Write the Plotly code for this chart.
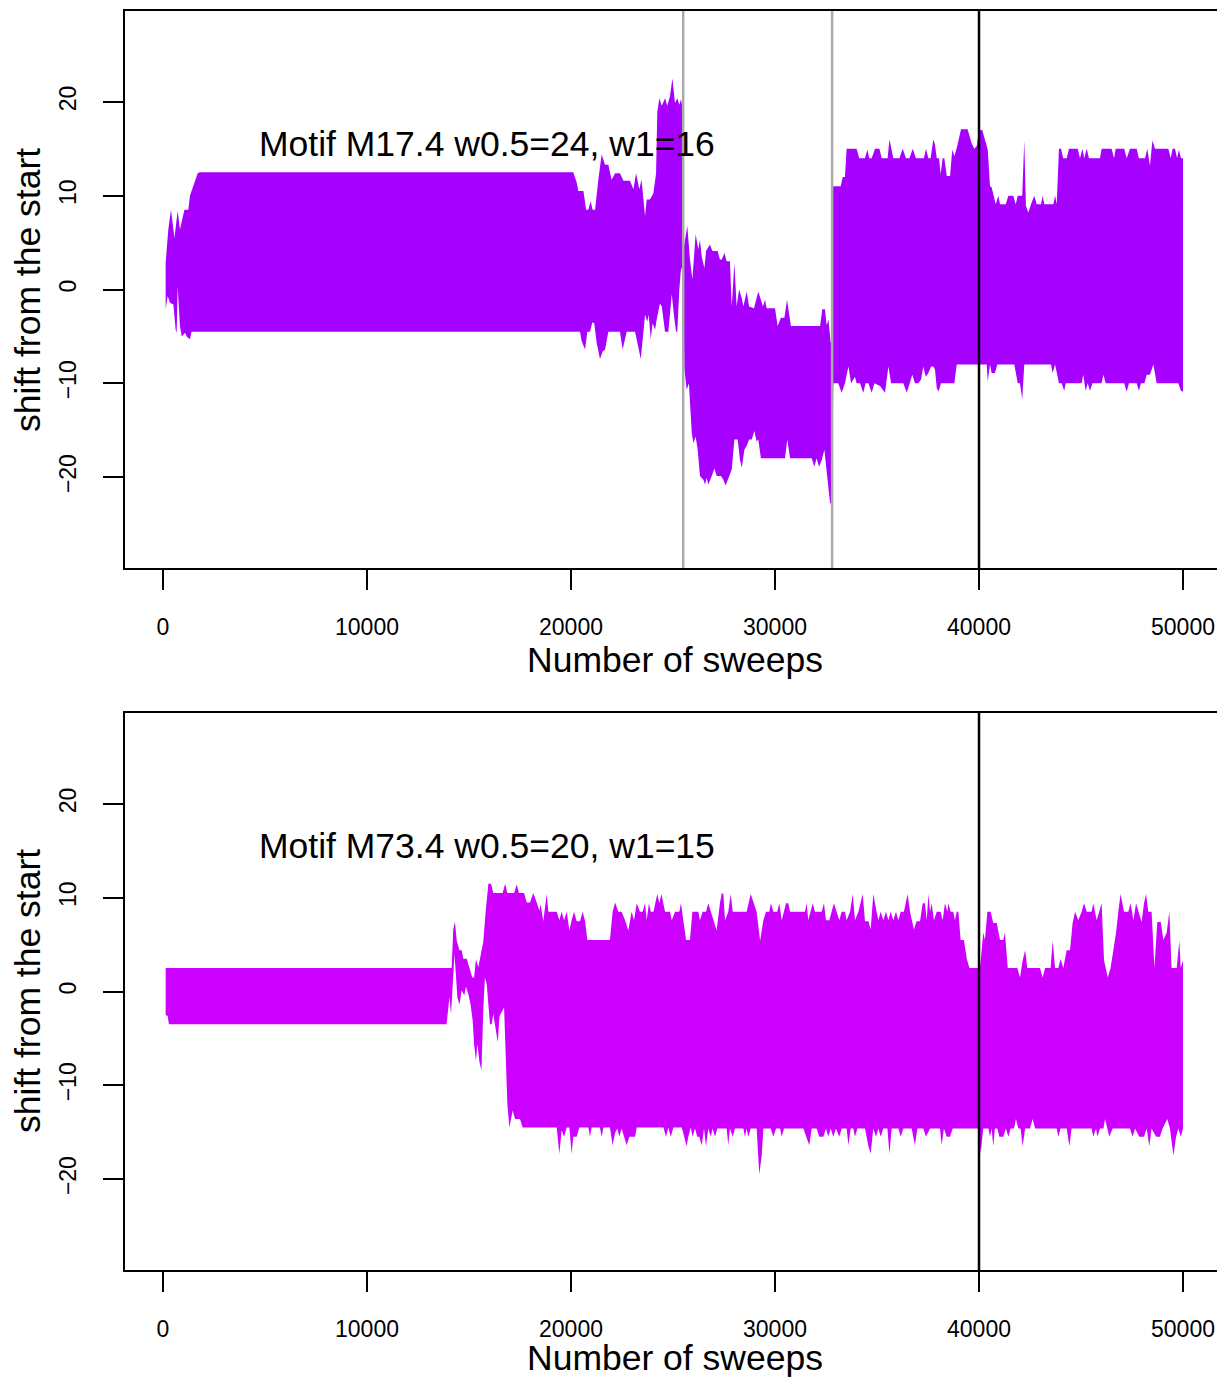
import plotly.graph_objects as go

# ---------------------------------------------------------------------------
# Envelope of the motif shift (upper / lower bound) versus number of sweeps
# ---------------------------------------------------------------------------

# Motif M17.4 -- upper bound
m17_upper_x = [130, 260, 390, 560, 720, 830, 1050, 1240, 1320, 1540, 1700, 1800, 20110, 20280, 20360,
               20610, 20740, 20850, 20960, 21060, 21180, 21340, 21500, 21670, 21830, 21990, 22160, 22400,
               22570, 22890, 23060, 23190, 23350, 23460, 23580, 23630, 23710, 23870, 24040, 24170, 24230,
               24330, 24450, 24610, 24720, 24850, 24970, 25100, 25210, 25310, 25390, 25460, 25530, 25700,
               25830, 25950, 26110, 26240, 26320, 26410, 26540, 26620, 26810, 26930, 27190, 27300, 27390,
               27520, 27630, 27790, 27880, 28010, 28120, 28240, 28370, 28450, 28610, 28730, 28970, 29180,
               29410, 29510, 29590, 30000, 30130, 30290, 30460, 30590, 30780, 32210, 32320, 32450, 32530,
               32620, 32730, 32790, 32830, 33220, 33320, 33430, 33510, 34000, 34130, 34410, 34530, 34620,
               34740, 34900, 35120, 35230, 35520, 35610, 35800, 36100, 36260, 36420, 36590, 36750, 36910,
               37300, 37400, 37520, 37630, 37760, 37840, 37930, 38040, 38120, 38220, 38300, 38420, 38580,
               38690, 38790, 38910, 39120, 39440, 39640, 39770, 39890, 40000, 40160, 40290, 40430, 40540,
               40620, 40820, 40950, 41030, 41310, 41440, 41680, 41800, 41900, 42120, 42220, 42300, 42420,
               42550, 42710, 42830, 43040, 43120, 43200, 43640, 43730, 43810, 43920, 44020, 44130, 44300,
               44410, 44840, 44950, 45070, 45160, 45280, 45390, 45930, 46010, 46500, 46620, 46700, 47120,
               47240, 47400, 47730, 47840, 48140, 48250, 48380, 48500, 48630, 49280, 49400, 49490, 49610,
               49710, 49800, 49900, 50000]
m17_upper_y = [2.9, 6.4, 8.5, 5.5, 8.4, 6.4, 8.5, 8.5, 10.0, 11.5, 12.4, 12.5, 12.5, 11.4, 10.5,
               10.5, 8.5, 8.5, 9.4, 8.5, 8.5, 11.7, 14.4, 13.3, 13.3, 11.7, 12.4, 12.4,
               11.6, 11.6, 10.7, 12.4, 10.7, 11.7, 9.4, 7.8, 9.6, 9.6, 10.3, 12.4, 18.9,
               20.4, 19.6, 20.4, 19.6, 20.6, 22.5, 19.9, 20.4, 19.7, 20.3, 19.5, 4.5, 6.8,
               3.2, 1.1, 5.9, 4.3, 5.3, 3.5, 2.3, 4.1, 4.8, 4.1, 4.1, 3.2, 3.2,
               3.9, 3.0, 3.0, -1.8, 2.8, -1.8, 0.0, -0.9, -1.8, -0.2, -1.8, -2.0, -0.2,
               -1.8, -1.1, -2.0, -2.0, -3.9, -3.0, -3.0, -1.1, -3.9, -3.9, -2.1, -2.1, -3.8,
               -3.2, -5.7, -5.0, 11.0, 11.0, 12.0, 12.0, 15.0, 15.0, 14.0, 14.0, 14.9, 14.0,
               14.0, 15.0, 15.0, 14.0, 14.0, 16.0, 14.0, 14.0, 15.0, 14.0, 14.0, 15.0, 14.0,
               14.0, 15.0, 14.0, 14.0, 16.0, 15.5, 14.0, 14.0, 12.3, 14.0, 14.0, 12.1, 12.1,
               14.9, 14.2, 15.1, 17.1, 17.1, 15.6, 15.0, 15.3, 17.0, 17.0, 16.0, 14.9, 11.0,
               10.9, 9.1, 10.0, 9.1, 9.1, 10.0, 10.0, 9.1, 10.0, 10.0, 15.9, 8.9, 8.2,
               9.1, 10.0, 9.1, 9.1, 10.0, 9.1, 9.1, 10.0, 9.1, 15.0, 15.0, 14.0, 14.0,
               15.0, 15.0, 14.0, 15.0, 14.0, 15.0, 14.0, 14.0, 15.0, 15.0, 14.0, 15.0, 15.0,
               14.0, 15.0, 15.0, 14.0, 14.0, 15.0, 13.2, 15.9, 15.0, 15.0, 14.0, 15.0, 15.0,
               14.0, 14.9, 14.0, 14.0]

# Motif M17.4 -- lower bound
m17_lower_x = [130, 230, 340, 510, 620, 670, 720, 830, 920, 1080, 1160, 1320, 1400, 20440, 20520,
               20690, 20800, 20930, 21050, 21140, 21260, 21420, 21550, 21670, 21830, 22400, 22530, 22730,
               23140, 23420, 23630, 23740, 23810, 23910, 24000, 24120, 24200, 24360, 24450, 24610, 24770,
               24940, 25050, 25150, 25210, 25310, 25390, 25480, 25560, 25670, 25780, 25920, 26000, 26110,
               26210, 26320, 26490, 26570, 26650, 26730, 26900, 27030, 27140, 27350, 27470, 27580, 27710,
               27880, 28010, 28170, 28280, 28370, 28500, 28610, 28730, 28860, 28990, 29100, 29180, 29310,
               30490, 30600, 30740, 31800, 31930, 32040, 32160, 32290, 32420, 32530, 32700, 32780, 32860,
               33100, 33270, 33430, 33600, 33730, 33920, 34000, 34170, 34330, 34440, 34580, 34740, 34870,
               35150, 35390, 35560, 35690, 36290, 36460, 36620, 36730, 36860, 37030, 37160, 37270, 37390,
               37520, 37650, 37760, 37840, 37930, 38010, 38140, 38790, 38910, 40380, 40430, 40540, 40620,
               40780, 40900, 41730, 41900, 42010, 42120, 42220, 43530, 43610, 43730, 43920, 44050, 44180,
               44250, 45030, 45110, 45230, 45330, 45440, 45560, 46010, 46100, 46210, 47120, 47240, 47350,
               47730, 47840, 47940, 48110, 48220, 48380, 48550, 48710, 49770, 49900, 50000]
m17_lower_y = [-2.1, -0.7, -1.4, -1.6, -4.3, -4.6, 0.3, -3.9, -5.0, -4.6, -5.0, -5.3, -4.5, -4.5, -5.5,
               -6.4, -4.5, -4.5, -3.5, -3.6, -5.7, -7.4, -6.6, -6.4, -4.5, -4.5, -6.4, -4.5,
               -4.5, -7.4, -2.7, -3.4, -2.7, -5.3, -3.6, -4.3, -3.2, -1.5, -1.8, -4.5, -4.5,
               -0.5, -2.8, -4.5, -4.5, 0.0, 2.1, 2.5, -8.5, -10.7, -10.0, -15.3, -16.4, -15.7,
               -17.1, -19.9, -20.3, -20.8, -20.1, -20.8, -19.9, -19.1, -19.9, -19.9, -20.3, -20.9, -20.1,
               -19.2, -16.0, -16.0, -18.1, -19.0, -17.1, -16.7, -16.0, -16.0, -15.1, -16.2, -16.0, -18.0,
               -18.0, -16.0, -18.0, -18.0, -18.9, -18.0, -18.9, -18.2, -17.1, -18.9, -22.8, -22.8, -10.0,
               -10.0, -11.0, -10.0, -8.2, -10.0, -9.3, -10.0, -10.0, -11.0, -10.0, -10.0, -11.0, -10.0,
               -10.3, -11.0, -8.2, -10.0, -10.0, -11.0, -10.0, -9.1, -10.0, -10.0, -9.6, -8.2, -9.3,
               -8.9, -8.2, -8.2, -8.5, -10.5, -10.9, -10.0, -10.0, -8.0, -8.0, -9.8, -8.0, -8.9,
               -8.9, -8.0, -8.0, -10.0, -10.0, -11.7, -8.0, -8.0, -8.9, -8.0, -10.0, -10.0, -10.8,
               -10.0, -10.0, -9.1, -10.8, -10.0, -10.8, -10.0, -10.0, -9.1, -10.0, -10.0, -10.9, -10.0,
               -10.0, -10.8, -10.0, -10.0, -9.1, -9.1, -8.0, -10.0, -10.0, -10.8, -10.9]

# Motif M73.4 -- upper bound
m73_upper_x = [130, 14150, 14230, 14310, 14400, 14530, 14640, 14720, 14890, 15050, 15160, 15250, 15340,
               15460, 15540, 15700, 15820, 15950, 16080, 16190, 16650, 16770, 16880, 17210, 17340, 17450,
               17700, 17830, 17990, 18150, 18320, 18450, 18510, 18640, 18810, 18890, 19300, 19430, 19540,
               19660, 19790, 19920, 20030, 20150, 20280, 20440, 20570, 20690, 20800, 21910, 22040, 22160,
               22320, 22480, 22650, 22810, 22970, 23090, 23220, 23380, 23510, 23630, 23710, 23820, 23910,
               24040, 24230, 24330, 24430, 24610, 24850, 24940, 25100, 25310, 25390, 25510, 25640, 25830,
               25950, 26240, 26320, 26450, 26620, 26730, 26860, 26980, 27140, 27300, 27390, 27470, 27550,
               27710, 27830, 27930, 28610, 28810, 28970, 29100, 29270, 29430, 29560, 29720, 29800, 29920,
               30110, 30210, 30330, 30540, 30650, 30740, 31470, 31550, 31630, 31850, 31960, 32290, 32400,
               32500, 32660, 32780, 32890, 33020, 33150, 33270, 33430, 33510, 33680, 33810, 33920, 34090,
               34300, 34410, 34580, 34690, 34820, 34980, 35070, 35180, 35310, 35440, 35560, 35670, 35800,
               35930, 36050, 36160, 36320, 36500, 36620, 36810, 36940, 37110, 37240, 37350, 37440, 37520,
               37600, 37680, 37790, 37930, 38120, 38220, 38330, 38450, 38500, 38610, 38740, 38820, 38910,
               38990, 39100, 39260, 39400, 39530, 40050, 40130, 40210, 40290, 40410, 40570, 40700, 40870,
               41030, 41190, 41270, 41410, 41880, 42010, 42140, 42260, 42370, 42990, 43120, 43240, 43510,
               43610, 43730, 43890, 44000, 44130, 44300, 44460, 44590, 44710, 44870, 45030, 45150, 45280,
               45520, 45600, 45770, 46010, 46130, 46210, 46310, 46450, 46590, 46720, 46830, 46940, 47110,
               47320, 47430, 47570, 47700, 47810, 47970, 48090, 48190, 48300, 48460, 48600, 48740, 48910,
               49040, 49200, 49330, 49440, 49690, 49820, 49890, 50000]
m73_upper_y = [2.5, 2.5, 6.7, 7.4, 5.4, 4.4, 4.4, 3.5, 3.5, 2.2, 1.5, 1.5, 3.4,
               2.6, 3.5, 5.3, 8.6, 11.5, 11.5, 10.5, 10.5, 11.5, 10.5, 10.5, 11.4, 10.5,
               10.5, 9.5, 9.5, 10.5, 9.5, 8.6, 9.3, 7.5, 10.4, 8.5, 8.5, 7.6, 8.5,
               7.6, 8.5, 6.5, 7.6, 8.5, 7.5, 7.5, 8.5, 7.5, 5.5, 5.5, 8.5, 9.5,
               8.5, 8.5, 7.6, 6.5, 8.5, 7.6, 9.4, 8.5, 8.5, 9.4, 7.6, 9.4, 8.5,
               8.5, 10.4, 9.4, 10.4, 8.5, 8.5, 7.6, 8.5, 8.5, 9.4, 7.5, 5.5, 5.5,
               8.5, 8.5, 7.6, 8.5, 8.5, 9.4, 8.5, 7.6, 6.5, 9.4, 10.5, 10.4, 7.6,
               8.5, 10.4, 8.5, 8.5, 10.4, 9.4, 8.5, 5.4, 7.6, 8.5, 8.5, 9.4, 8.5,
               8.5, 9.4, 7.6, 9.4, 9.4, 8.5, 8.5, 9.4, 7.6, 9.4, 8.5, 8.5, 9.4,
               7.6, 7.6, 8.5, 9.4, 8.5, 7.6, 8.5, 8.5, 7.6, 8.5, 10.4, 7.6, 8.5,
               10.4, 7.5, 7.5, 6.6, 10.4, 8.5, 7.6, 8.5, 7.6, 8.5, 7.6, 8.5, 7.6,
               8.5, 7.6, 8.5, 8.5, 10.4, 8.5, 6.6, 7.5, 7.5, 9.4, 9.4, 7.6, 10.4,
               8.5, 9.4, 7.6, 8.5, 8.5, 7.6, 9.4, 8.5, 9.4, 8.5, 8.5, 7.6, 8.5,
               8.5, 5.5, 5.5, 3.5, 2.5, 2.5, 4.4, 6.3, 5.5, 8.5, 8.5, 7.3, 7.3,
               5.5, 5.5, 6.3, 2.5, 2.5, 1.5, 3.3, 4.4, 2.5, 2.5, 1.5, 2.5, 2.5,
               5.4, 2.5, 2.5, 3.5, 2.5, 4.4, 4.4, 7.3, 8.5, 7.6, 8.5, 9.4, 8.5,
               8.5, 9.4, 7.6, 9.4, 3.3, 2.5, 1.5, 2.5, 4.4, 6.3, 8.5, 10.4, 8.5,
               8.5, 9.4, 7.6, 9.4, 8.5, 7.4, 9.4, 10.4, 8.5, 8.5, 2.5, 7.4, 7.4,
               5.5, 6.3, 8.5, 2.5, 2.5, 5.4, 2.5, 3.3]

# Motif M73.4 -- lower bound
m73_lower_x = [130, 230, 290, 13900, 14040, 14120, 14290, 14430, 14530, 14640, 14770, 14850, 14970,
               15080, 15180, 15250, 15340, 15410, 15510, 15610, 15700, 15780, 15870, 15950, 16030, 16110,
               16190, 16320, 16410, 16490, 16550, 16720, 16810, 16880, 16980, 17140, 17260, 17500, 17630,
               19300, 19430, 19540, 19660, 19790, 19920, 20030, 20110, 20280, 20410, 20850, 20930, 21010,
               21420, 21500, 21590, 21910, 22040, 22160, 22270, 22370, 22480, 22600, 22730, 22860, 23140,
               23220, 24530, 24660, 24770, 24890, 25020, 25430, 25540, 25670, 25750, 25870, 25960, 26080,
               26190, 26290, 26410, 26520, 26620, 26730, 26850, 26940, 27060, 27170, 27630, 27710, 27790,
               27930, 28040, 28450, 28530, 28610, 28690, 28810, 29100, 29230, 29350, 29430, 29790, 29920,
               30050, 30250, 30330, 30440, 31390, 31550, 31680, 31800, 32040, 32170, 32370, 32500, 32610,
               32730, 32860, 32990, 33150, 33270, 33510, 33600, 33710, 33840, 33920, 34040, 34410, 34580,
               34690, 34820, 34950, 35070, 35180, 35310, 35510, 35610, 35720, 36050, 36160, 36290, 36700,
               36860, 36980, 37270, 37400, 37600, 38090, 38170, 38280, 38420, 38580, 38710, 39970, 40080,
               40210, 40460, 40540, 40620, 40700, 40780, 40900, 41000, 41190, 41320, 41440, 41550, 41720,
               41810, 41930, 42040, 42140, 42260, 42500, 42630, 42750, 43810, 43890, 44000, 44300, 44430,
               44540, 45520, 45600, 45740, 45800, 45930, 46100, 46180, 46290, 46390, 46550, 47400, 47530,
               47650, 47860, 48090, 48220, 48350, 48460, 48680, 48870, 49000, 49230, 49360, 49530, 49660,
               49770, 49890, 50000]
m73_lower_y = [-2.5, -2.6, -3.5, -3.5, -0.6, -2.4, 4.0, -0.6, -1.4, 0.1, -0.4, 0.5, -0.3,
               -1.4, -3.1, -5.6, -7.4, -5.6, -7.5, -8.4, -2.0, 1.5, 0.8, -1.4, -3.5, -3.5,
               -2.4, -4.2, -5.4, -2.7, -2.4, -1.7, -7.0, -12.0, -14.5, -12.7, -13.6, -13.6, -14.5,
               -14.5, -17.3, -14.8, -15.5, -14.5, -14.5, -17.3, -15.5, -15.5, -14.5, -14.5, -15.5, -14.5,
               -14.5, -15.5, -14.5, -14.5, -16.4, -15.1, -14.6, -15.5, -14.6, -15.5, -16.4, -15.5, -15.5,
               -14.5, -14.5, -15.5, -14.5, -15.5, -14.5, -14.5, -15.5, -16.5, -15.5, -14.5, -15.5, -14.6,
               -15.5, -15.5, -16.4, -14.6, -16.5, -14.6, -15.5, -14.6, -15.5, -14.6, -14.6, -16.4, -14.6,
               -15.5, -14.6, -14.6, -15.5, -14.6, -15.5, -14.6, -14.6, -19.5, -17.5, -14.6, -14.6, -15.5,
               -14.6, -14.6, -15.5, -14.6, -14.6, -15.5, -16.4, -14.6, -14.6, -15.5, -15.5, -14.6, -15.5,
               -14.6, -15.5, -14.6, -15.5, -14.6, -14.6, -16.4, -14.6, -14.6, -15.5, -14.6, -14.6, -16.5,
               -17.3, -14.6, -15.5, -14.6, -15.5, -14.6, -14.6, -17.3, -14.6, -14.6, -15.5, -14.6, -14.6,
               -16.4, -14.6, -14.6, -15.5, -14.6, -14.6, -16.4, -14.6, -15.5, -15.5, -14.6, -14.6, -17.3,
               -14.6, -14.6, -15.5, -14.6, -16.5, -14.6, -14.6, -15.5, -15.5, -14.6, -15.5, -14.6, -14.6,
               -13.6, -14.6, -14.6, -16.5, -14.6, -14.6, -13.6, -14.6, -14.6, -15.5, -14.6, -14.6, -16.5,
               -14.6, -14.6, -15.5, -14.6, -15.5, -14.6, -14.6, -13.6, -14.6, -15.5, -14.6, -14.6, -15.5,
               -14.6, -15.5, -15.5, -14.6, -16.5, -14.6, -15.5, -15.5, -14.6, -13.6, -14.6, -17.5, -15.5,
               -14.6, -15.5, -14.6]

# Reference sweeps marked with vertical lines
m17_gray_marks = [25500, 32800]
black_mark = 40000

# Panel labels
m17_label = "Motif M17.4 w0.5=24, w1=16"
m73_label = "Motif M73.4 w0.5=20, w1=15"
label_pos = (15900, 15.5)

# Axis ticks
x_ticks = [0, 10000, 20000, 30000, 40000, 50000]
x_tick_text = ["0", "10000", "20000", "30000", "40000", "50000"]
y_ticks = [-20, -10, 0, 10, 20]
y_tick_text = ["\u221220", "\u221210", "0", "10", "20"]

# ---------------------------------------------------------------------------
W, H = 1217, 1378
FONT = "Liberation Sans, Arial, Helvetica, sans-serif"
M17_COLOR = "#A600FF"
M73_COLOR = "#CC00FF"
BIG = 35.5


def band_polygon(xu, yu, xl, yl):
    """Closed outline: upper bound left->right, then lower bound right->left."""
    return list(xu) + list(reversed(xl)), list(yu) + list(reversed(yl))


fig = go.Figure()

for (xu, yu, xl, yl, color, xa, ya) in [
    (m17_upper_x, m17_upper_y, m17_lower_x, m17_lower_y, M17_COLOR, "x", "y"),
    (m73_upper_x, m73_upper_y, m73_lower_x, m73_lower_y, M73_COLOR, "x2", "y2"),
]:
    px, py = band_polygon(xu, yu, xl, yl)
    fig.add_trace(go.Scatter(
        x=px, y=py, mode="lines", fill="toself", fillcolor=color,
        line=dict(width=0, color=color), hoverinfo="skip", showlegend=False,
        xaxis=xa, yaxis=ya,
    ))

# vertical marker lines
for xv in m17_gray_marks:
    fig.add_shape(type="line", x0=xv, x1=xv, y0=0, y1=1, xref="x", yref="y domain",
                  line=dict(color="#AAAAAA", width=2.5), layer="above")
for xa, ya in [("x", "y domain"), ("x2", "y2 domain")]:
    fig.add_shape(type="line", x0=black_mark, x1=black_mark, y0=0, y1=1, xref=xa, yref=ya,
                  line=dict(color="black", width=2.5), layer="above")

# geometry (pixels -> paper fractions)
x_left = 125 / W
top_dom = [1 - 568 / H, 1 - 11 / H]
bot_dom = [1 - 1270 / H, 1 - 713 / H]
x_range = [-1863, 51667]
y_range = [-29.7, 29.7]

xaxis_style = dict(
    range=x_range, domain=[x_left, 1], showgrid=False, zeroline=False,
    showline=True, linecolor="black", linewidth=2, mirror=True,
    ticks="outside", ticklen=20, tickwidth=2, tickcolor="black",
    tickvals=x_ticks, ticktext=x_tick_text, ticklabelstandoff=17,
    tickfont=dict(family=FONT, size=23, color="black"),
)
yaxis_style = dict(
    range=y_range, showgrid=False, zeroline=False,
    showline=True, linecolor="black", linewidth=2, mirror=False,
    ticks="outside", ticklen=20, tickwidth=2, tickcolor="black",
    tickvals=y_ticks, ticktext=y_tick_text, tickangle=-90, ticklabelstandoff=18,
    tickfont=dict(family=FONT, size=23, color="black"),
)

fig.update_layout(
    width=W, height=H,
    margin=dict(l=0, r=0, t=0, b=0),
    paper_bgcolor="white", plot_bgcolor="white",
    font=dict(family=FONT, color="black"),
    xaxis=dict(**xaxis_style, anchor="y"),
    yaxis=dict(**yaxis_style, domain=top_dom, anchor="x"),
    xaxis2=dict(**xaxis_style, anchor="y2"),
    yaxis2=dict(**yaxis_style, domain=bot_dom, anchor="x2"),
)

annotations = []
for label, xa, ya, title_y, mid_y in [
    (m17_label, "x", "y", 1 - 660 / H, 1 - 290 / H),
    (m73_label, "x2", "y2", 1 - 1358 / H, 1 - 991 / H),
]:
    annotations.append(dict(text=label, x=label_pos[0], y=label_pos[1], xref=xa, yref=ya,
                            showarrow=False, xanchor="center", yanchor="middle",
                            font=dict(family=FONT, size=BIG, color="black")))
    annotations.append(dict(text="Number of sweeps", x=675 / W, y=title_y, xref="paper", yref="paper",
                            showarrow=False, xanchor="center", yanchor="middle",
                            font=dict(family=FONT, size=BIG, color="black")))
    annotations.append(dict(text="shift from the start", x=28 / W, y=mid_y, xref="paper", yref="paper",
                            showarrow=False, xanchor="center", yanchor="middle", textangle=-90,
                            font=dict(family=FONT, size=BIG, color="black")))
fig.update_layout(annotations=annotations)

fig.write_html("out.html")
